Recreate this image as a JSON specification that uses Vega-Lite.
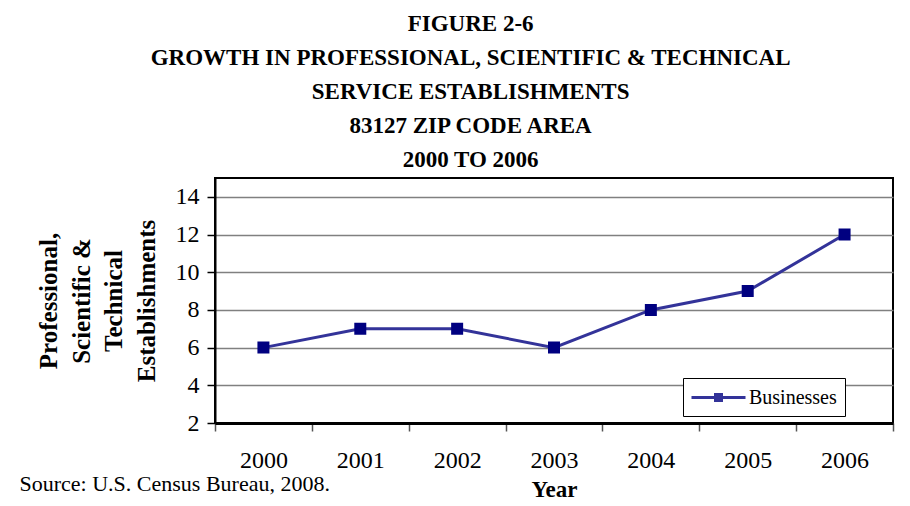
{
  "$schema": "https://vega.github.io/schema/vega-lite/v6.json",
  "background": "white",
  "padding": {"left": 18, "top": 13, "right": 17, "bottom": 5},
  "title": {
    "text": ["FIGURE 2-6", "GROWTH IN PROFESSIONAL, SCIENTIFIC & TECHNICAL", "SERVICE ESTABLISHMENTS", "83127 ZIP CODE AREA", "2000 TO 2006"],
    "font": "Liberation Serif", "fontSize": 23, "fontWeight": "bold", "lineHeight": 34,
    "color": "black", "anchor": "middle", "offset": 5, "dx": 14
  },
  "vconcat": [
    {
      "width": 678,
      "height": 245,
      "title": {
        "text": "Source: U.S. Census Bureau, 2008.",
        "orient": "bottom", "anchor": "start",
        "font": "Liberation Serif", "fontSize": 22, "fontWeight": "normal", "color": "black",
        "offset": -27, "dx": -17
      },
      "data": {
        "values": [
          {"year": "2000", "value": 6, "series": "Businesses"},
          {"year": "2001", "value": 7, "series": "Businesses"},
          {"year": "2002", "value": 7, "series": "Businesses"},
          {"year": "2003", "value": 6, "series": "Businesses"},
          {"year": "2004", "value": 8, "series": "Businesses"},
          {"year": "2005", "value": 9, "series": "Businesses"},
          {"year": "2006", "value": 12, "series": "Businesses"}
        ]
      },
      "encoding": {
        "x": {
          "field": "year", "type": "ordinal",
          "scale": {"paddingInner": 0, "paddingOuter": 0},
          "axis": {
            "title": "Year", "labelAngle": 0, "tickBand": "extent",
            "tickSize": 8, "tickColor": "#555555", "tickWidth": 1.5,
            "domainColor": "black", "domainWidth": 3,
            "labelFont": "Liberation Serif", "labelFontSize": 24, "labelColor": "black", "labelPadding": 17,
            "titleFont": "Liberation Serif", "titleFontSize": 23, "titleFontWeight": "bold", "titleColor": "black", "titlePadding": 6
          }
        },
        "y": {
          "field": "value", "type": "quantitative",
          "scale": {"domain": [2, 15], "nice": false, "zero": false},
          "axis": {
            "title": ["Professional,", "Scientific &", "Technical", "Establishments"],
            "values": [2, 4, 6, 8, 10, 12, 14],
            "tickSize": 8, "tickColor": "black", "tickWidth": 1.5,
            "domainColor": "black", "domainWidth": 2,
            "gridColor": "#808080", "gridWidth": 1.5,
            "labelFont": "Liberation Serif", "labelFontSize": 24, "labelColor": "black", "labelPadding": 8,
            "titleFont": "Liberation Serif", "titleFontSize": 25, "titleFontWeight": "bold", "titleColor": "black",
            "titleLineHeight": 32.5, "titlePadding": 16
          }
        }
      },
      "layer": [
        {
          "mark": {"type": "line", "strokeWidth": 3},
          "encoding": {
            "color": {
              "field": "series", "type": "nominal",
              "scale": {"range": ["#333399"]},
              "legend": {
                "title": null, "orient": "none", "legendX": 468, "legendY": 200,
                "symbolType": "M-2.7,0H2.7M-0.3,-0.3H0.3V0.3H-0.3Z",
                "symbolSize": 400, "symbolStrokeWidth": 3, "symbolOffset": 16,
                "labelOffset": 19,
                "labelFont": "Liberation Serif", "labelFontSize": 20, "labelColor": "black",
                "strokeColor": "black", "fillColor": "white", "padding": 8,
                "encode": {"symbols": {"update": {"fill": {"value": "#000080"}}}}
              }
            }
          }
        },
        {
          "mark": {"type": "point", "shape": "square", "filled": true, "size": 100, "fill": "#000080", "stroke": "#000080", "opacity": 1},
          "encoding": {}
        }
      ]
    }
  ],
  "config": {
    "view": {"stroke": "black", "strokeWidth": 2}
  }
}
